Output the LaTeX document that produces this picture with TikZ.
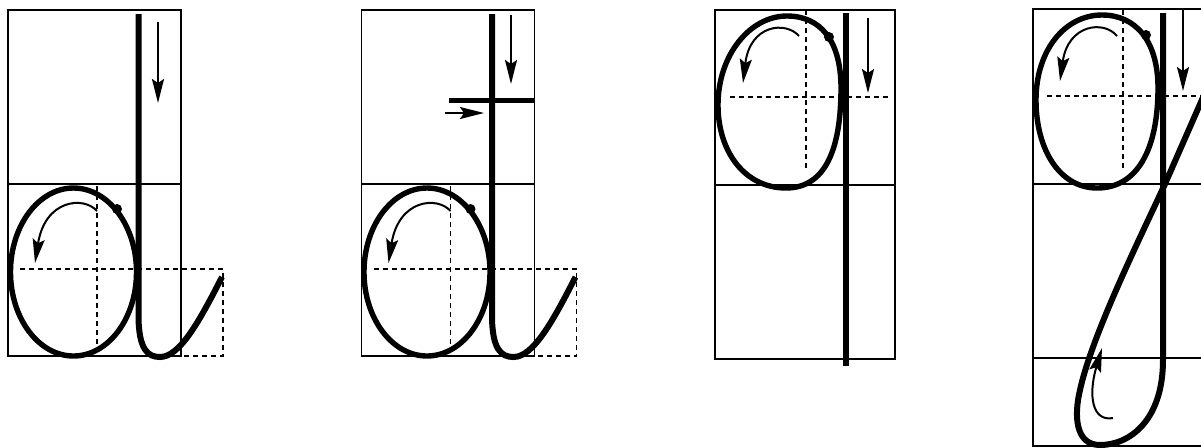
\documentclass[tikz,border=0pt]{standalone}
\usetikzlibrary{arrows.meta}
\begin{document}
\tikzset{
  gridline/.style={line width=0.6pt},
  guide/.style={line width=0.9pt, dash pattern=on 2.5pt off 2pt},
  letter/.style={line width=2.7pt},
  stemline/.style={line width=3pt},
  hint/.style={line width=1pt, -{Stealth[length=12pt,width=6pt,inset=2pt]}},
}
\begin{tikzpicture}[x=0.5pt,y=-0.5pt]
\clip (0,0) rectangle (1201,447);
\fill[white] (0,0) rectangle (1201,447);

% letters 1 and 2 (shared part)
\foreach \dx in {0,353.5}{
\begin{scope}[shift={(\dx,0)}]
  \draw[gridline] (8,10) rectangle (181,356);
  \draw[gridline] (8,184) -- (181,184);
  \draw[guide] (20,269) -- (223,269) -- (223,356) -- (181,356);
  \draw[guide] (97,186) -- (97,345);
  \draw[letter] (73.5,272) ellipse [x radius=31.5pt, y radius=42pt];
  \draw[stemline] (138.5,14) -- (138.5,315) .. controls (138.5,350) and (148,357) .. (160,357) .. controls (180,357) and (200,320) .. (222,277);
  \fill (117,209) circle [radius=2.5pt];
  \draw[hint] (97,211) .. controls (84,196) and (45,199) .. (35,263);
\end{scope}
}
% letter 1 down arrow
\draw[hint] (158,22) -- (158,103);
% letter 2 extras
\draw[hint] (511,15) -- (511,84);
\draw[line width=2.5pt] (449,100) -- (534,100);
\draw[hint] (445,113) -- (484,113);

% letter 3
\draw[gridline] (715,10) rectangle (895,359);
\draw[gridline] (715,185) -- (895,185);
\draw[guide] (730,97) -- (890,97);
\draw[guide] (806,10) -- (806,170);
\draw[letter] (787,16) .. controls (820,16) and (841,40) .. (841,88)
  .. controls (841,150) and (825,188) .. (786,188)
  .. controls (745,188) and (718,152) .. (718,105)
  .. controls (718,55) and (750,16) .. cycle;
\draw[stemline] (846,13) -- (846,366);
\fill (829,37) circle [radius=2.5pt];
\draw[hint] (868,18) -- (868,93);
\draw[hint] (799,36) .. controls (786,21) and (750,24) .. (743,83);

% letter 4
\draw[gridline] (1033,447) -- (1033,9) -- (1210,9);
\draw[gridline] (1033,184) -- (1210,184);
\draw[gridline] (1033,358) -- (1210,358);
\draw[gridline] (1033,446) -- (1210,446);
\draw[guide] (1047,96) -- (1210,96);
\draw[guide] (1123,10) -- (1123,170);
\draw[letter] (1102,15) .. controls (1135,15) and (1158,40) .. (1158,88)
  .. controls (1158,150) and (1137,188) .. (1097,188)
  .. controls (1060,188) and (1036,150) .. (1036,100)
  .. controls (1036,50) and (1065,15) .. cycle;
\draw[stemline] (1163,13) -- (1163,360) .. controls (1163,420) and (1130,445) .. (1100,445) .. controls (1075,445) and (1074,415) .. (1080,390) .. controls (1092,335) and (1140,238) .. (1165,184) -- (1215,70);
\fill (1146,35) circle [radius=2.5pt];
\draw[hint] (1183,9) -- (1183,91);
\draw[hint] (1117,36) .. controls (1104,20) and (1068,24) .. (1060,81);
\draw[hint] (1113,418) .. controls (1092,422) and (1088,395) .. (1102,348);
\end{tikzpicture}
\end{document}
